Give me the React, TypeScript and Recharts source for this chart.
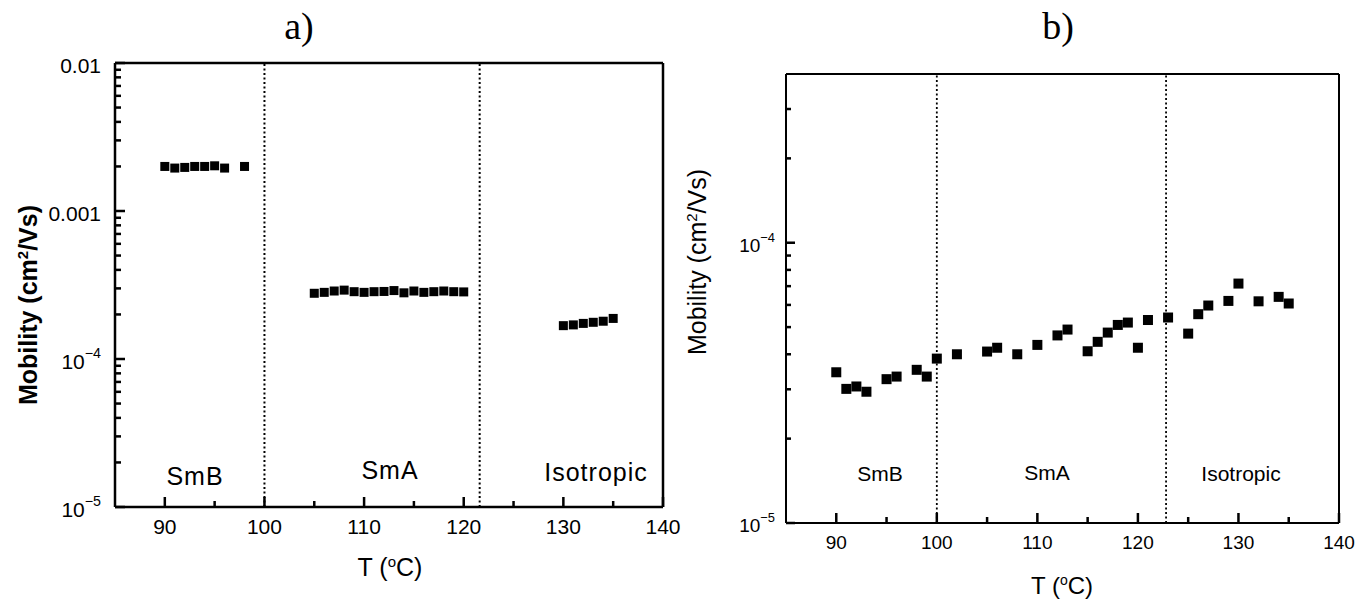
import { ReferenceDot, ReferenceLine, Scatter, ScatterChart, XAxis, YAxis } from 'recharts'

const SANS = '"Liberation Sans", Arial, sans-serif'
const SERIF = '"Liberation Serif", "Times New Roman", serif'

// panel a) — three phases, nearly flat
const tempSmBA = [90, 91, 92, 93, 94, 95, 96, 98]
const mobSmBA = [2.0e-3, 1.95e-3, 1.97e-3, 2.0e-3, 2.0e-3, 2.02e-3, 1.95e-3, 2.0e-3]
const tempSmAA = [105, 106, 107, 108, 109, 110, 111, 112, 113, 114, 115, 116, 117, 118, 119, 120]
const mobSmAA = [
  2.78e-4, 2.82e-4, 2.88e-4, 2.92e-4, 2.85e-4, 2.82e-4, 2.85e-4, 2.86e-4,
  2.9e-4, 2.8e-4, 2.88e-4, 2.82e-4, 2.85e-4, 2.88e-4, 2.85e-4, 2.84e-4,
]
const tempIsoA = [130, 131, 132, 133, 134, 135]
const mobIsoA = [1.68e-4, 1.7e-4, 1.74e-4, 1.77e-4, 1.8e-4, 1.88e-4]
const transitionsA = [100, 121.6]

// panel b)
const tempB = [
  90, 91, 92, 93, 95, 96, 98, 99, 100, 102, 105, 106, 108, 110, 112, 113,
  115, 116, 117, 118, 119, 120, 121, 123, 125, 126, 127, 129, 130, 132, 134, 135,
]
const mobB = [
  3.45e-5, 3.01e-5, 3.07e-5, 2.94e-5, 3.26e-5, 3.33e-5, 3.52e-5, 3.33e-5,
  3.86e-5, 4.0e-5, 4.09e-5, 4.22e-5, 4.0e-5, 4.32e-5, 4.67e-5, 4.9e-5,
  4.1e-5, 4.43e-5, 4.78e-5, 5.09e-5, 5.19e-5, 4.22e-5, 5.3e-5, 5.41e-5,
  4.74e-5, 5.56e-5, 5.97e-5, 6.2e-5, 7.15e-5, 6.18e-5, 6.41e-5, 6.07e-5,
]
const transitionsB = [100, 122.8]

// axes
const xDomain = [85, 140]
const xMajor = [90, 100, 110, 120, 130, 140]
const xMinor = [95, 105, 115, 125, 135]
const yDomainA = [1e-5, 1e-2]
const yMajorA = [1e-2, 1e-3, 1e-4, 1e-5]
const yLabelsA = ['0.01', '0.001', '10^−4', '10^−5']
const yMinorA = [
  2e-5, 3e-5, 4e-5, 5e-5, 6e-5, 7e-5, 8e-5, 9e-5,
  2e-4, 3e-4, 4e-4, 5e-4, 6e-4, 7e-4, 8e-4, 9e-4,
  2e-3, 3e-3, 4e-3, 5e-3, 6e-3, 7e-3, 8e-3, 9e-3,
]
const yDomainB = [1e-5, 4e-4]
const yMajorB = [1e-4, 1e-5]
const yLabelsB = ['10^−4', '10^−5']
const yMinorB = [2e-5, 3e-5, 4e-5, 5e-5, 6e-5, 7e-5, 8e-5, 9e-5, 2e-4, 3e-4]

const zip = (t: number[], m: number[]) => t.map((v, i) => ({ t: v, mu: m[i] }))

function TickText({ x, y, text, fontSize, anchor }: any) {
  if (text.startsWith('10^')) {
    return (
      <text x={x} y={y} textAnchor={anchor} dominantBaseline="central" fontSize={fontSize} fontFamily={SANS} fill="#000">
        <tspan>10</tspan>
        <tspan dy={-fontSize * 0.4} fontSize={fontSize * 0.68}>{text.slice(3)}</tspan>
      </text>
    )
  }
  return (
    <text x={x} y={y} textAnchor={anchor} dominantBaseline="central" fontSize={fontSize} fontFamily={SANS} fill="#000">
      {text}
    </text>
  )
}

function YTick(props: any) {
  const { x, y, payload, major, labels, fontSize, gap } = props
  const idx = major.indexOf(payload.value)
  if (idx < 0) return <g />
  return <TickText x={x - gap} y={y + 2} text={labels[idx]} fontSize={fontSize} anchor="end" />
}

function XTick(props: any) {
  const { x, y, payload, fontSize, gap } = props
  if (!xMajor.includes(payload.value)) return <g />
  return <TickText x={x} y={y + gap} text={String(payload.value)} fontSize={fontSize} anchor="middle" />
}

const square = (s: number) => (p: any) => (
  <rect x={p.cx - s / 2} y={p.cy - s / 2} width={s} height={s} fill="#000" />
)
// inward tick marks, anchored on the axis point given by the library
const upMark = (len: number, w: number) => (p: any) => (
  <rect x={p.cx - w / 2} y={p.cy - len} width={w} height={len} fill="#000" />
)
const rightMark = (len: number, w: number) => (p: any) => (
  <rect x={p.cx} y={p.cy - w / 2} width={len} height={w} fill="#000" />
)

function Txt({ x, y, children, size, style }: any) {
  return (
    <div
      style={{
        position: 'absolute',
        left: x,
        top: y,
        transform: 'translate(-50%, -50%)',
        fontSize: size,
        lineHeight: 1,
        whiteSpace: 'nowrap',
        fontFamily: SANS,
        ...style,
      }}
    >
      {children}
    </div>
  )
}

function Panel({ p }: { p: any }) {
  const [y0, y1] = p.yDomain
  const [x0, x1] = xDomain
  return (
    <ScatterChart width={p.width} height={599} margin={{ top: p.top, right: p.right, bottom: 0, left: 0 }}>
      <XAxis
        type="number"
        dataKey="t"
        domain={xDomain}
        ticks={[...xMajor, ...xMinor]}
        interval={0}
        height={p.xHeight}
        tickSize={0}
        tickMargin={0}
        tickLine={false}
        axisLine={false}
        allowDataOverflow
        tick={(t: any) => <XTick {...t} fontSize={p.fontSize} gap={19} />}
      />
      <YAxis
        type="number"
        dataKey="mu"
        scale="log"
        domain={p.yDomain}
        ticks={[...p.yMajor, ...p.yMinor]}
        interval={0}
        width={p.yWidth}
        tickSize={0}
        tickMargin={0}
        tickLine={false}
        axisLine={false}
        allowDataOverflow
        tick={(t: any) => <YTick {...t} major={p.yMajor} labels={p.yLabels} fontSize={p.fontSize} gap={p.gap} />}
      />
      {p.transitions.map((t: number) => (
        <ReferenceLine key={t} x={t} stroke="#000" strokeWidth={p.dotW} strokeDasharray="2 2.5" />
      ))}
      <ReferenceLine x={x0} stroke="#000" strokeWidth={p.frameW} />
      <ReferenceLine x={x1} stroke="#000" strokeWidth={p.frameW} />
      <ReferenceLine y={y0} stroke="#000" strokeWidth={p.frameW} />
      <ReferenceLine y={y1} stroke="#000" strokeWidth={p.frameW} />

      {xMajor.map((t) => (
        <ReferenceDot key={'xM' + t} x={t} y={y0} r={1} ifOverflow="visible" shape={upMark(10, 2.5)} />
      ))}
      {xMinor.map((t) => (
        <ReferenceDot key={'xm' + t} x={t} y={y0} r={1} ifOverflow="visible" shape={upMark(6, 2.5)} />
      ))}
      {p.yMajor.map((v: number) => (
        <ReferenceDot key={'yM' + v} x={x0} y={v} r={1} ifOverflow="visible" shape={rightMark(p.yMajorLen, 2.5)} />
      ))}
      {p.yMinor.map((v: number) => (
        <ReferenceDot key={'ym' + v} x={x0} y={v} r={1} ifOverflow="visible" shape={rightMark(p.yMinorLen, 2.5)} />
      ))}

      {p.series.map((d: any[], i: number) => (
        <Scatter key={i} data={d} shape={square(p.marker)} isAnimationActive={false} />
      ))}
    </ScatterChart>
  )
}

const panelA = {
  width: 700, top: 63, right: 37, xHeight: 92, yWidth: 115, fontSize: 21, gap: 14,
  yDomain: yDomainA, yMajor: yMajorA, yMinor: yMinorA, yLabels: yLabelsA,
  yMajorLen: 10, yMinorLen: 6, transitions: transitionsA, dotW: 2, frameW: 2.5, marker: 9,
  series: [zip(tempSmBA, mobSmBA), zip(tempSmAA, mobSmAA), zip(tempIsoA, mobIsoA)],
}
const panelB = {
  width: 689, top: 74, right: 30, xHeight: 76, yWidth: 106, fontSize: 19, gap: 11,
  yDomain: yDomainB, yMajor: yMajorB, yMinor: yMinorB, yLabels: yLabelsB,
  yMajorLen: 9, yMinorLen: 5, transitions: transitionsB, dotW: 1.8, frameW: 2, marker: 10,
  series: [zip(tempB, mobB)],
}

export default function App() {
  return (
    <div style={{ position: 'absolute', left: 0, top: 0, width: 1369, height: 599, background: '#fff', overflow: 'hidden' }}>
      <div style={{ position: 'absolute', left: 0, top: 0 }}>
        <Panel p={panelA} />
      </div>
      <div style={{ position: 'absolute', left: 680, top: 0 }}>
        <Panel p={panelB} />
      </div>

      <Txt x={299} y={26} size={38} style={{ fontFamily: SERIF }}>a)</Txt>
      <Txt x={1058} y={26} size={38} style={{ fontFamily: SERIF }}>b)</Txt>

      <Txt x={195} y={476} size={25} style={{ letterSpacing: 1 }}>SmB</Txt>
      <Txt x={390} y={470} size={25} style={{ letterSpacing: 1 }}>SmA</Txt>
      <Txt x={596} y={472} size={25} style={{ letterSpacing: 1 }}>Isotropic</Txt>
      <Txt x={880} y={473} size={21}>SmB</Txt>
      <Txt x={1047} y={472} size={21}>SmA</Txt>
      <Txt x={1241} y={473} size={21}>Isotropic</Txt>

      <Txt x={390} y={567} size={25}>
        T (<sup style={{ fontSize: 15 }}>o</sup>C)
      </Txt>
      <Txt x={1062} y={585} size={24}>
        T (<sup style={{ fontSize: 14 }}>o</sup>C)
      </Txt>

      <Txt x={28} y={305} size={25} style={{ transform: 'translate(-50%, -50%) rotate(-90deg)', fontWeight: 'bold' }}>
        Mobility (cm<sup style={{ fontSize: 15 }}>2</sup>/Vs)
      </Txt>
      <Txt x={697} y={262} size={25} style={{ transform: 'translate(-50%, -50%) rotate(-90deg)' }}>
        Mobility (cm<sup style={{ fontSize: 15 }}>2</sup>/Vs)
      </Txt>
    </div>
  )
}
